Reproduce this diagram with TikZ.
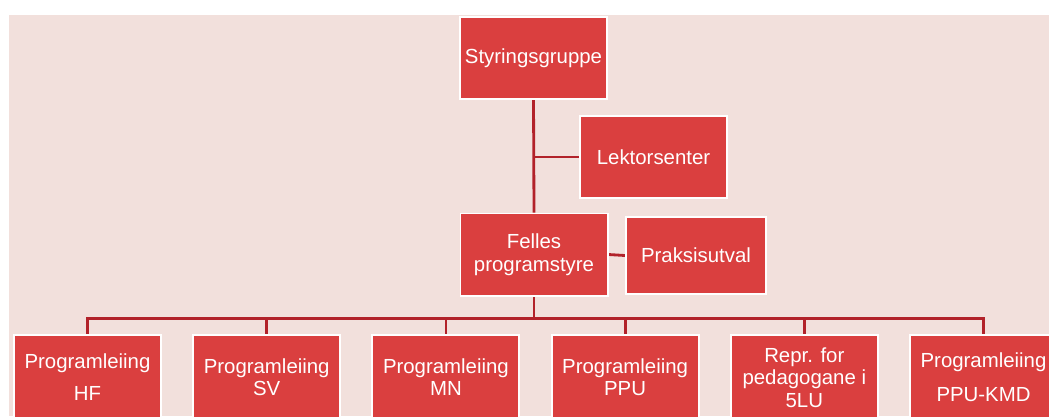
\documentclass[tikz,border=0pt]{standalone}
\usepackage{fontspec}
\setmainfont{Liberation Sans}
\usetikzlibrary{calc, backgrounds}
\definecolor{sfondo}{RGB}{242,224,220}
\definecolor{scatola}{RGB}{218,63,63}
\definecolor{linea}{RGB}{178,34,42}
\tikzset{
  box/.style={draw=white, line width=1.4pt, fill=scatola, text=white, align=center,
    inner sep=0pt, minimum width=3.675cm, minimum height=2.05cm,
    font=\fontsize{14.5}{16}\selectfont},
  conn/.style={draw=linea, line width=2pt},
}

\begin{document}
\begin{tikzpicture}[x=0.025cm, y=-0.025cm]
    % Parametri
    \pgfmathsetmacro{\passo}{179.2}
    \pgfmathsetmacro{\primo}{87.5}
    \useasboundingbox (0,0) rectangle (1049,416);
    % Scatole
    \node[box] (styr) at (533.5,58) {Styringsgruppe};
    \node[box] (lekt) at (653.5,157) {Lektorsenter};
    \node[box] (felles) at (534,254.5) {Felles\\programstyre};
    \node[box, minimum width=3.5cm, minimum height=1.925cm] (praks) at (696,255.5) {Praksisutval};
    \foreach \i/\testo in {1/{Programleiing\\[7pt]HF}, 2/{Programleiing\\SV}, 3/{Programleiing\\MN},
                           4/{Programleiing\\PPU}, 5/{Repr. for\\pedagogane i\\5LU}, 6/{Programleiing\\[8pt]PPU-KMD}}
        \node[box, minimum height=2.1cm] (prog\i) at ({\primo+\passo*(\i-1)},377.25) {\testo};
    \begin{scope}[on background layer]
    % Sfondo
    \fill[sfondo] (8.5,15) rectangle (1049,416);
    % Linee
    \draw[conn] (styr.south) -- (felles.north);
    \draw[conn] (lekt.west) -- (lekt.west -| styr.south);
    \draw[conn] (felles.east) -- (praks.west);
    \coordinate (bus) at ($(felles.south)+(0,22)$);
    \draw[conn] (felles.south) -- (bus);
    \foreach \i in {1,...,6}
        \draw[conn] (bus) -| (prog\i.north);
    \end{scope}
\end{tikzpicture}
\end{document}
